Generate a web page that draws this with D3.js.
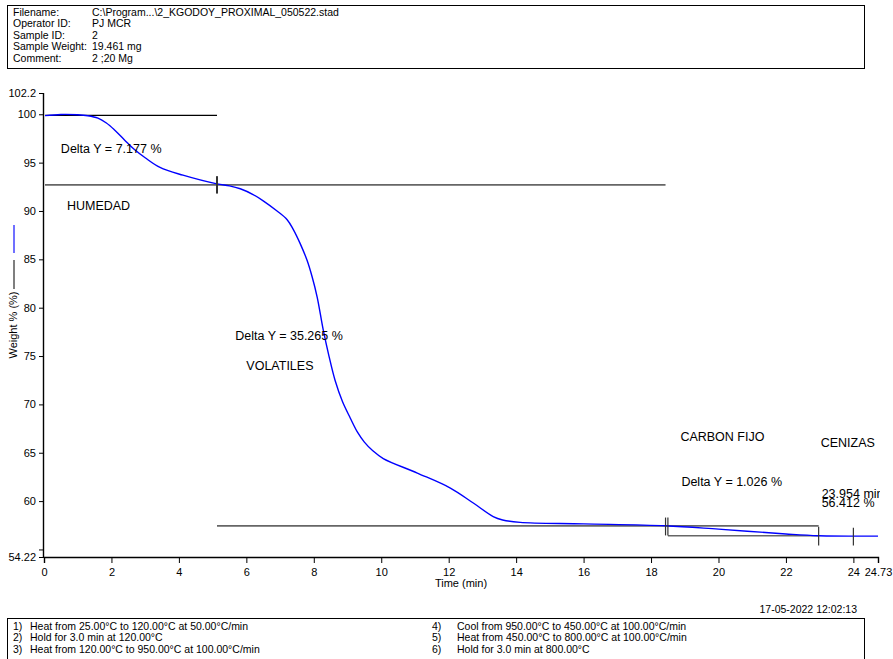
<!DOCTYPE html>
<html>
<head>
<meta charset="utf-8">
<script src="https://cdn.jsdelivr.net/npm/d3@7"></script>
<style>
  body { margin: 0; background: #fff; }
  svg { font-family: "Liberation Sans", Arial, sans-serif; }
</style>
</head>
<body>
<svg id="chart" width="893" height="659"></svg>
<script>
// TGA curve
const timeMin = [0, 0.5, 1.0, 1.3, 1.6, 1.85, 2.1, 2.4, 2.7, 3.0, 3.44, 4.12, 5.13, 5.5, 5.82, 6.2, 6.5, 6.91, 7.21, 7.39,
  7.6, 7.8, 7.95, 8.1, 8.28, 8.45, 8.63, 8.85, 9.08, 9.3, 9.5, 9.75, 10.06, 11.07, 12.05, 12.73, 13.32, 13.6, 14.12,
  16, 18.43, 20, 22, 22.97, 24.73];
const weightPct = [99.85, 99.98, 99.95, 99.85, 99.6, 99.1, 98.35, 97.3, 96.3, 95.5, 94.5, 93.7, 92.8, 92.6, 92.3, 91.7, 91.05, 90.0, 89.1, 88.1,
  86.6, 84.9, 83.2, 81.1, 77.7, 75.0, 72.5, 70.3, 68.6, 67.1, 66.1, 65.2, 64.4, 62.9, 61.35, 59.8, 58.4, 58.05, 57.8,
  57.65, 57.45, 57.1, 56.6, 56.42, 56.38];

const xTicks = [0, 2, 4, 6, 8, 10, 12, 14, 16, 18, 20, 22, 24, 24.73];
const yTicks = [54.22, 55, 60, 65, 70, 75, 80, 85, 90, 95, 100, 102.2];

// step analysis lines: [x1, x2, y]
const stepLines = [[0, 5.13, 99.88, "#000"], [0, 18.43, 92.703, "#666"], [5.13, 22.97, 57.438, "#666"], [18.5, 22.97, 56.412, "#666"]];
// vertical markers: [x, yTop, yBottom]
const markers = [[5.13, 93.6, 91.8], [18.43, 58.3, 56.45], [18.5, 58.3, 56.45], [22.97, 57.35, 55.4], [24.0, 57.25, 55.4]];
const notes = [
  ["Delta Y = 7.177 %", 0.5, 95.97], ["HUMEDAD", 0.68, 90.1],
  ["Delta Y = 35.265 %", 5.67, 76.7], ["VOLATILES", 6.0, 73.6],
  ["CARBON FIJO", 18.87, 66.2], ["CENIZAS", 23.03, 65.6],
  ["Delta Y = 1.026 %", 18.9, 61.6], ["23.954 min", 23.06, 60.31], ["56.412 %", 23.06, 59.38]
];
const header = [["Filename:", "C:\\Program...\\2_KGODOY_PROXIMAL_050522.stad"], ["Operator ID:", "PJ MCR"],
  ["Sample ID:", "2"], ["Sample Weight:", "19.461 mg"], ["Comment:", "2 ;20 Mg"]];
const methodLeft = ["Heat from 25.00°C to 120.00°C at 50.00°C/min", "Hold for 3.0 min at 120.00°C", "Heat from 120.00°C to 950.00°C at 100.00°C/min"];
const methodRight = ["Cool from 950.00°C to 450.00°C at 100.00°C/min", "Heat from 450.00°C to 800.00°C at 100.00°C/min", "Hold for 3.0 min at 800.00°C"];

const svg = d3.select("#chart");

// header box
svg.append("rect").attr("x", 7.5).attr("y", 5.5).attr("width", 857).attr("height", 63)
  .attr("fill", "none").attr("stroke", "#000");
header.forEach((h, i) => {
  svg.append("text").attr("x", 13).attr("y", 15.5 + i * 11.6).attr("font-size", 10.5).text(h[0]);
  svg.append("text").attr("x", 92).attr("y", 15.5 + i * 11.6).attr("font-size", 10.5).text(h[1]);
});

const x = d3.scaleLinear().domain([0, 24.73]).range([44, 878]);
const y = d3.scaleLinear().domain([54.22, 102.2]).range([557, 93]);

const xAxis = svg.append("g").attr("transform", "translate(0,557)")
  .call(d3.axisBottom(x).tickValues(xTicks).tickSize(6).tickFormat(d => d));
const yAxis = svg.append("g").attr("transform", "translate(44,0)")
  .call(d3.axisLeft(y).tickValues(yTicks).tickSize(5).tickFormat(d => d === 55 ? "" : d));
[xAxis, yAxis].forEach(a => {
  a.select(".domain").attr("stroke", "#000").attr("stroke-width", 1.4);
  a.selectAll("text").attr("font-size", 11).attr("fill", "#000").attr("font-family", "Liberation Sans, Arial");
});
xAxis.selectAll("text").attr("dy", "0.9em");
yAxis.select(".domain").attr("d", "M-0.5,557V93");

svg.append("text").attr("x", 461).attr("y", 587).attr("text-anchor", "middle").attr("font-size", 11).text("Time (min)");
svg.append("text").attr("transform", "translate(17,325) rotate(-90)").attr("text-anchor", "middle")
  .attr("font-size", 11).text("Weight % (%)");
svg.append("line").attr("x1", 14).attr("x2", 14).attr("y1", 225).attr("y2", 253).attr("stroke", "#4040ff").attr("stroke-width", 1.5);
svg.append("line").attr("x1", 14).attr("x2", 14).attr("y1", 260).attr("y2", 289).attr("stroke", "#555").attr("stroke-width", 1.5);

svg.append("clipPath").attr("id", "plot").append("rect").attr("x", 45).attr("y", 80).attr("width", 835).attr("height", 476);
const plot = svg.append("g").attr("clip-path", "url(#plot)");

stepLines.forEach(s => {
  plot.append("line").attr("x1", x(s[0])).attr("x2", x(s[1])).attr("y1", y(s[2])).attr("y2", y(s[2]))
    .attr("stroke", s[3]).attr("stroke-width", s[3] === "#000" ? 1.2 : 1.6);
});

const line = d3.line().x((d, i) => x(timeMin[i])).y((d, i) => y(weightPct[i])).curve(d3.curveCatmullRom.alpha(0.5));
plot.append("path").datum(weightPct).attr("d", line).attr("fill", "none").attr("stroke", "#0000ff").attr("stroke-width", 1.4);

markers.forEach(m => {
  plot.append("line").attr("x1", x(m[0])).attr("x2", x(m[0])).attr("y1", y(m[1])).attr("y2", y(m[2]))
    .attr("stroke", "#333").attr("stroke-width", m[0] === 5.13 ? 2 : 1.2);
});

notes.forEach(n => {
  plot.append("text").attr("x", x(n[1])).attr("y", y(n[2])).attr("font-size", 12.5).text(n[0]);
});

// footer
svg.append("text").attr("x", 857).attr("y", 613).attr("text-anchor", "end").attr("font-size", 10.5).text("17-05-2022 12:02:13");
svg.append("rect").attr("x", 7.5).attr("y", 618.5).attr("width", 857).attr("height", 50).attr("fill", "none").attr("stroke", "#000");
methodLeft.forEach((t, i) => {
  svg.append("text").attr("x", 13).attr("y", 629.5 + i * 11.5).attr("font-size", 10.5).text((i + 1) + ")");
  svg.append("text").attr("x", 30).attr("y", 629.5 + i * 11.5).attr("font-size", 10.5).text(t);
});
methodRight.forEach((t, i) => {
  svg.append("text").attr("x", 432).attr("y", 629.5 + i * 11.5).attr("font-size", 10.5).text((i + 4) + ")");
  svg.append("text").attr("x", 457).attr("y", 629.5 + i * 11.5).attr("font-size", 10.5).text(t);
});
</script>
</body>
</html>
